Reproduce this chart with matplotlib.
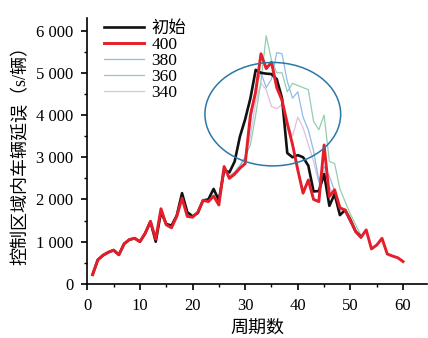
import matplotlib
matplotlib.use('Agg')
import matplotlib.pyplot as plt
from matplotlib.patches import Ellipse
from matplotlib.ticker import MultipleLocator, FuncFormatter

plt.rcParams['font.family'] = ['Liberation Serif', 'Noto Sans CJK SC']

# 周期
periods = list(range(1, 61))
periods_init = list(range(1, 53))
periods_light = list(range(26, 53))

# 400
delay_400 = [220, 570, 680, 750, 800, 690, 950, 1050, 1080, 1000,
             1200, 1480, 1060, 1780, 1400, 1330, 1600, 2030, 1600, 1580,
             1700, 1980, 1950, 2080, 1870, 2780, 2500, 2600, 2740, 2850,
             4000, 4550, 5450, 5100, 5250, 4650, 4350, 3800, 3300, 2700,
             2150, 2460, 2000, 1950, 3290, 2070, 2230, 1800, 1750, 1500,
             1240, 1100, 1280, 830, 920, 1080, 710, 660, 620, 530]

# 初始
delay_init = [220, 570, 680, 750, 800, 690, 950, 1050, 1080, 1000,
              1200, 1480, 1000, 1700, 1420, 1380, 1620, 2150, 1700, 1600,
              1680, 1980, 2000, 2250, 1980, 2700, 2640, 2900, 3490, 3900,
              4400, 5070, 5000, 4980, 4970, 4850, 4400, 3100, 3000, 3050,
              3000, 2800, 2190, 2200, 2600, 1850, 2130, 1630, 1750, 1520,
              1240, 1120]

# 380 / 360 / 340
delay_380 = [2700, 2550, 2650, 2800, 3000, 3800, 4700, 5000, 4650, 4850,
             5480, 5450, 4800, 4400, 4550, 3950, 3650, 3150, 2450, 2780,
             2550, 2200, 1850, 1700, 1450, 1250, 1120]
delay_360 = [2700, 2550, 2650, 2800, 3000, 3300, 4000, 4800, 5880, 5300,
             5000, 5000, 4550, 4750, 4700, 4650, 4600, 3850, 3650, 4000,
             2900, 2850, 2250, 1950, 1650, 1400, 1150]
delay_340 = [2700, 2550, 2650, 2800, 3000, 3500, 4300, 4750, 4600, 4200,
             4150, 4250, 3800, 3500, 3950, 3700, 3300, 2900, 2400, 2700,
             2300, 2050, 1750, 1700, 1450, 1250, 1120]

fig = plt.figure(figsize=(4.28, 3.38), dpi=100)
ax = fig.add_axes([0.204, 0.160, 0.793, 0.787])

ax.plot(periods_light, delay_340, color='#dcc0e2', lw=0.9, label='340', zorder=2)
ax.plot(periods_light, delay_360, color='#92cfae', lw=0.9, label='360', zorder=2)
ax.plot(periods_light, delay_380, color='#8fbbe8', lw=0.9, label='380', zorder=2)
ax.plot(periods_init, delay_init, color='#111111', lw=1.9, label='初始', zorder=3)
ax.plot(periods, delay_400, color='#e51e2b', lw=2.1, label='400', zorder=4)

# 圈出的区域
ax.add_patch(Ellipse((35.25, 4020), 25.8, 2450, fill=False,
                     edgecolor='#2a78a6', lw=1.1, zorder=5))

ax.set_xlim(0, 64.5)
ax.set_ylim(0, 6300)
ax.xaxis.set_major_locator(MultipleLocator(10))
ax.xaxis.set_minor_locator(MultipleLocator(5))
ax.yaxis.set_major_locator(MultipleLocator(1000))
ax.yaxis.set_minor_locator(MultipleLocator(500))
ax.yaxis.set_major_formatter(FuncFormatter(lambda v, p: f'{int(v):,}'.replace(',', ' ')))
ax.spines['top'].set_visible(False)
ax.spines['right'].set_visible(False)
for s in ['left', 'bottom']:
    ax.spines[s].set_linewidth(1.2)
ax.tick_params(which='major', direction='out', length=4, width=1.2, labelsize=12, pad=6)
ax.tick_params(which='minor', direction='out', length=2.5, width=1.0)

ax.set_xlabel('周期数', fontsize=13, labelpad=4)
ax.set_ylabel('控制区域内车辆延误（s/辆）', fontsize=13, labelpad=5)

handles, labels = ax.get_legend_handles_labels()
order = [3, 4, 2, 1, 0]
ax.legend([handles[i] for i in order], [labels[i] for i in order],
          loc='upper left', bbox_to_anchor=(0.05, 0.99), frameon=False,
          fontsize=12.5, handlelength=2.3, handletextpad=0.4,
          labelspacing=0.0, borderpad=0, borderaxespad=0)

fig.savefig('out.png', dpi=100)
